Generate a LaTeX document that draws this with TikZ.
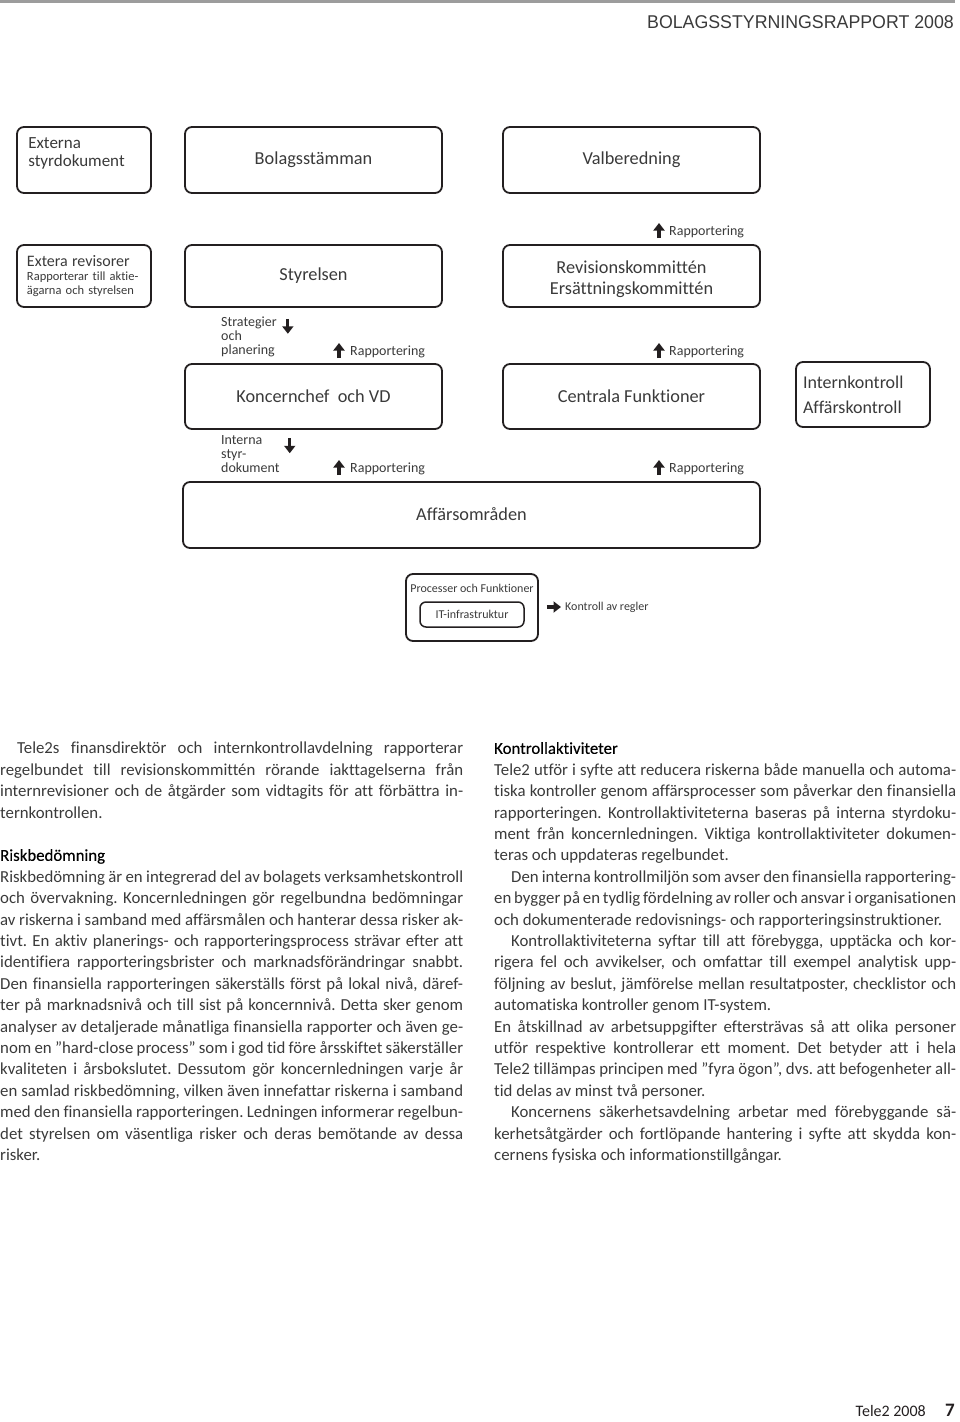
\documentclass[tikz,border=0pt]{standalone}
\usepackage{fontspec}
\setmainfont{Carlito}[Ligatures=NoCommon]
\newfontfamily\kopfont[FakeStretch=0.96]{Liberation Sans}
\newfontfamily\rubrikfont[FakeBold=0.2,Ligatures=NoCommon]{Carlito}
\usetikzlibrary{arrows.meta,calc}
\definecolor{ink}{HTML}{231F20}
\definecolor{grafit}{HTML}{3A3A3A}
\definecolor{linje}{HTML}{9C9C9C}
\frenchspacing
\newcommand{\rad}[1]{\hbox to\hsize{#1}}
\newcommand{\slutrad}[1]{\hbox{#1}}
\newcommand{\indrag}{\hskip17pt}

\begin{document}
\begin{tikzpicture}[
    x=1pt, y=-1pt,
    box/.style={draw=ink, line width=1.8pt, rounded corners=7pt, inner sep=0pt, text=grafit},
    bigbox/.style={box, minimum width=257pt, font=\fontsize{18.3}{21}\selectfont},
    smallbox/.style={box, minimum width=134pt},
    note/.style={inner sep=0pt, text=grafit, align=left, font=\fontsize{14}{14}\selectfont},
    pil/.style={-{Triangle[width=11pt,length=7.5pt]}, line width=3.3pt, draw=ink},
    spalt/.style={anchor=north west, inner sep=0pt, text=grafit, font=\fontsize{16.8}{21.4}\selectfont},
    rubrik/.style={font=\rubrikfont}
]
\useasboundingbox (0,0) rectangle (960,1422);
\draw[linje, line width=3pt] (0,1.5) -- (955,1.5);
\node[anchor=base east, inner sep=0pt, text=grafit, font=\kopfont\fontsize{18.5}{18}\selectfont] (kopf) at (954,28) {BOLAGSSTYRNINGSRAPPORT 2008};

\node[smallbox, minimum height=66pt] (ext) at (84,160) {};
\node[anchor=north west, inner sep=0pt, align=left, text=grafit, font=\fontsize{17}{18}\selectfont] (exttext) at ([shift={(12,11)}]ext.north west) {Externa\\styrdokument};
\node[bigbox, minimum height=66pt] (stamma) at (313.5,160) {Bolagsstämman};
\node[bigbox, minimum height=66pt] (valb) at (631.5,160) {Valberedning};

\node[smallbox, minimum height=62pt, align=left, text width=114pt, font=\fontsize{12.5}{14}\selectfont] (revisorer) at (84,276) {{\fontsize{16}{14}\selectfont Extera revisorer}\\Rapporterar till aktie-\\ägarna och styrelsen};
\node[bigbox, minimum height=62pt] (styrelse) at (313.5,276) {Styrelsen};
\node[bigbox, minimum height=62pt, align=center, text depth=0pt] (kommitte) at (631.5,276) {\raisebox{-3pt}{Revisionskommittén}\\\raisebox{-3pt}{Ersättningskommittén}};

\node[bigbox, minimum height=65pt] (vd) at (313.5,396.5) {Koncernchef\ \ och VD};
\node[bigbox, minimum height=65pt] (central) at (631.5,396.5) {Centrala Funktioner};
\node[smallbox, minimum height=65pt, align=left, text width=120pt, font=\fontsize{18}{25}\selectfont] (intern) at (863,394.5) {Internkontroll\\Affärskontroll};

\node[box, minimum width=577pt, minimum height=66pt, font=\fontsize{18.3}{21}\selectfont] (affomr) at (471.5,515) {\raisebox{1pt}{Affärsområden}};

\node[box, minimum width=132pt, minimum height=67pt] (process) at (472,607.5) {};
\node[note, font=\fontsize{12}{14}\selectfont] (proctext) at (472,588) {Processer och Funktioner};
\node[box, line width=1.5pt, rounded corners=6pt, minimum width=104pt, minimum height=25pt, font=\fontsize{12}{14}\selectfont] (itinfra) at (472,614.5) {IT-infrastruktur};
\node[note, anchor=west, font=\fontsize{12}{14}\selectfont] (kontroll) at (565,607) {Kontroll av regler};
\draw[pil] ([xshift=8pt]process.east |- kontroll.west) -- ([xshift=-4pt]kontroll.west);

\node[note, anchor=west] (rapA) at (669,232) {Rapportering};
\node[note, anchor=west] (strat) at (221,337) {Strategier\\och\\planering};
\node[note, anchor=west] (rapB) at (350,352) {Rapportering};
\node[note, anchor=west] (rapC) at (669,352) {Rapportering};
\node[note, anchor=west] (interna) at (221,454) {Interna\\styr-\\dokument};
\node[note, anchor=west] (rapD) at (350,469) {Rapportering};
\node[note, anchor=west] (rapE) at (669,469) {Rapportering};
\draw[pil] ($(rapA.west)+(-10,6)$) -- ++(0,-15);
\draw[pil] ($(rapB.west)+(-11,6)$) -- ++(0,-15);
\draw[pil] ($(rapC.west)+(-10,6)$) -- ++(0,-15);
\draw[pil] ($(rapD.west)+(-11,6)$) -- ++(0,-15);
\draw[pil] ($(rapE.west)+(-10,6)$) -- ++(0,-15);
\draw[pil] ($(strat.north east)+(11,2)$) -- ++(0,15);
\draw[pil] ($(interna.north east)+(10,3)$) -- ++(0,15);

\node[spalt] (spaltA) at (0,742) {\vbox{\hsize=463pt
\rad{\indrag Tele2s finansdirektör och internkontrollavdelning rapporterar}
\rad{regelbundet till revisionskommittén rörande iakttagelserna från}
\rad{internrevisioner och de åtgärder som vidtagits för att förbättra in-}
\slutrad{ternkontrollen.}
\vspace{21.4pt}
\slutrad{\color{black}\rubrikfont Riskbedömning}
\rad{Riskbedömning är en integrerad del av bolagets verksamhetskontroll}
\rad{och övervakning. Koncernledningen gör regelbundna bedömningar}
\rad{av riskerna i samband med affärsmålen och hanterar dessa risker ak-}
\rad{tivt. En aktiv planerings- och rapporteringsprocess strävar efter att}
\rad{identifiera rapporteringsbrister och marknadsförändringar snabbt.}
\rad{Den finansiella rapporteringen säkerställs först på lokal nivå, däref-}
\rad{ter på marknadsnivå och till sist på koncernnivå. Detta sker genom}
\rad{analyser av detaljerade månatliga finansiella rapporter och även ge-}
\rad{nom en ”hard-close process” som i god tid före årsskiftet säkerställer}
\rad{kvaliteten i årsbokslutet. Dessutom gör koncernledningen varje år}
\rad{en samlad riskbedömning, vilken även innefattar riskerna i samband}
\rad{med den finansiella rapporteringen. Ledningen informerar regelbun-}
\rad{det styrelsen om väsentliga risker och deras bemötande av dessa}
\slutrad{risker.}}};

\node[spalt] (spaltB) at (494,742) {\vbox{\hsize=462pt
\slutrad{\color{black}\rubrikfont Kontrollaktiviteter}
\rad{Tele2 utför i syfte att reducera riskerna både manuella och automa-}
\rad{tiska kontroller genom affärsprocesser som påverkar den finansiella}
\rad{rapporteringen. Kontrollaktiviteterna baseras på interna styrdoku-}
\rad{ment från koncernledningen. Viktiga kontrollaktiviteter dokumen-}
\slutrad{teras och uppdateras regelbundet.}
\rad{\indrag Den interna kontrollmiljön som avser den finansiella rapportering-}
\rad{en bygger på en tydlig fördelning av roller och ansvar i organisationen}
\slutrad{och dokumenterade redovisnings- och rapporteringsinstruktioner.}
\rad{\indrag Kontrollaktiviteterna syftar till att förebygga, upptäcka och kor-}
\rad{rigera fel och avvikelser, och omfattar till exempel analytisk upp-}
\rad{följning av beslut, jämförelse mellan resultatposter, checklistor och}
\slutrad{automatiska kontroller genom IT-system.}
\rad{En åtskillnad av arbetsuppgifter eftersträvas så att olika personer}
\rad{utför respektive kontrollerar ett moment. Det betyder att i hela}
\rad{Tele2 tillämpas principen med ”fyra ögon”, dvs. att befogenheter all-}
\slutrad{tid delas av minst två personer.}
\rad{\indrag Koncernens säkerhetsavdelning arbetar med förebyggande sä-}
\rad{kerhetsåtgärder och fortlöpande hantering i syfte att skydda kon-}
\slutrad{cernens fysiska och informationstillgångar.}}};

\node[anchor=base east, inner sep=0pt, text=ink, font=\fontsize{16}{16}\selectfont] (fot) at (926,1416) {Tele2 2008};
\node[anchor=base east, inner sep=0pt, text=ink, font=\bfseries\fontsize{19}{19}\selectfont] (sida) at (955,1416) {7};
\end{tikzpicture}
\end{document}
